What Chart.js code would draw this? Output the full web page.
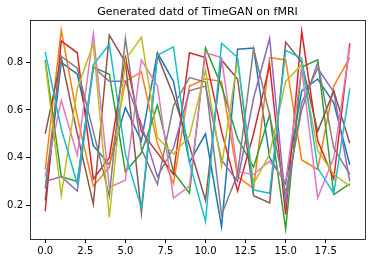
<!DOCTYPE html>
<html>
<head>
<meta charset="utf-8">
<script src="https://cdn.jsdelivr.net/npm/chart.js@4.4.1/dist/chart.umd.min.js"></script>
<style>
    html, body { margin: 0; padding: 0; background: #fff; }
    #wrap { width: 372px; height: 262px; }
</style>
</head>
<body>
<div id="wrap"><canvas id="chart"></canvas></div>
<script>
const steps = [0, 1, 2, 3, 4, 5, 6, 7, 8, 9, 10, 11, 12, 13, 14, 15, 16, 17, 18, 19];
const xTicks = [0, 2.5, 5, 7.5, 10, 12.5, 15, 17.5];
const yTicks = [0.2, 0.4, 0.6, 0.8];

const seriesBlue   = [0.22, 0.80, 0.75, 0.45, 0.37, 0.61, 0.47, 0.84, 0.72, 0.38, 0.50, 0.11, 0.855, 0.86, 0.40, 0.29, 0.68, 0.73, 0.63, 0.37];
const seriesOrange = [0.35, 0.935, 0.57, 0.28, 0.36, 0.72, 0.76, 0.46, 0.29, 0.70, 0.73, 0.72, 0.32, 0.27, 0.82, 0.81, 0.39, 0.35, 0.70, 0.82];
const seriesGreen  = [0.81, 0.32, 0.30, 0.78, 0.75, 0.34, 0.42, 0.62, 0.34, 0.25, 0.86, 0.70, 0.48, 0.36, 0.58, 0.10, 0.78, 0.81, 0.245, 0.29];
const seriesRed    = [0.175, 0.89, 0.84, 0.31, 0.40, 0.82, 0.51, 0.42, 0.33, 0.84, 0.82, 0.51, 0.26, 0.50, 0.79, 0.16, 0.93, 0.47, 0.31, 0.88];
const seriesPurple = [0.30, 0.32, 0.26, 0.78, 0.72, 0.72, 0.54, 0.32, 0.44, 0.68, 0.70, 0.39, 0.30, 0.65, 0.90, 0.21, 0.63, 0.775, 0.675, 0.30];
const seriesBrown  = [0.50, 0.82, 0.50, 0.205, 0.914, 0.80, 0.167, 0.83, 0.66, 0.45, 0.22, 0.81, 0.73, 0.24, 0.21, 0.885, 0.80, 0.51, 0.68, 0.46];
const seriesPink   = [0.32, 0.64, 0.41, 0.92, 0.275, 0.305, 0.81, 0.70, 0.23, 0.28, 0.84, 0.82, 0.34, 0.33, 0.385, 0.30, 0.775, 0.23, 0.40, 0.865];
const seriesGray   = [0.27, 0.825, 0.775, 0.51, 0.238, 0.90, 0.436, 0.288, 0.618, 0.736, 0.717, 0.16, 0.33, 0.857, 0.58, 0.25, 0.60, 0.80, 0.44, 0.33];
const seriesOlive  = [0.80, 0.24, 0.69, 0.876, 0.149, 0.81, 0.905, 0.484, 0.415, 0.49, 0.766, 0.364, 0.81, 0.29, 0.415, 0.72, 0.79, 0.43, 0.33, 0.28];
const seriesCyan   = [0.844, 0.52, 0.29, 0.79, 0.876, 0.415, 0.188, 0.83, 0.865, 0.38, 0.132, 0.88, 0.82, 0.264, 0.25, 0.85, 0.817, 0.356, 0.25, 0.69];

const allSeries = [seriesBlue, seriesOrange, seriesGreen, seriesRed, seriesPurple,
                   seriesBrown, seriesPink, seriesGray, seriesOlive, seriesCyan];
const colors = ['#1f77b4', '#ff7f0e', '#2ca02c', '#d62728', '#9467bd',
                '#8c564b', '#e377c2', '#7f7f7f', '#bcbd22', '#17becf'];

// matplotlib-ish 5% margins around the data
const allVals = allSeries.flat();
const yLo = Math.min(...allVals), yHi = Math.max(...allVals);
const yPad = (yHi - yLo) * 0.05;
const xPad = (steps[steps.length - 1] - steps[0]) * 0.05;

// frame around the plot area
const frame = {
    id: 'frame',
    afterDraw(chart) {
        const a = chart.chartArea, ctx = chart.ctx;
        ctx.save();
        ctx.strokeStyle = '#000';
        ctx.lineWidth = 0.8;
        ctx.strokeRect(Math.round(a.left) + 0.5, Math.round(a.top) + 0.5,
                       Math.round(a.right - a.left), Math.round(a.bottom - a.top));
        ctx.restore();
    }
};

const font = { family: 'DejaVu Sans', size: 10 };

new Chart(document.getElementById('chart'), {
    type: 'line',
    data: {
        datasets: allSeries.map((s, i) => ({
            data: s.map((v, j) => ({ x: steps[j], y: v })),
            borderColor: colors[i],
            borderWidth: 1.5,
            pointRadius: 0,
            tension: 0,
            fill: false,
            order: allSeries.length - i
        }))
    },
    options: {
        responsive: true,
        maintainAspectRatio: false,
        animation: false,
        layout: { padding: { left: 0, right: 7, top: 0, bottom: 0 } },
        plugins: {
            legend: { display: false },
            tooltip: { enabled: false },
            title: {
                display: true,
                fullSize: false,   // centre over the plot area, like matplotlib
                text: 'Generated datd of TimeGAN on fMRI',
                color: '#000',
                font: { family: 'DejaVu Sans', size: 11, weight: 'normal' },
                padding: { top: 6, bottom: 1 }
            }
        },
        scales: {
            x: {
                type: 'linear',
                min: steps[0] - xPad,
                max: steps[steps.length - 1] + xPad,
                afterBuildTicks: s => { s.ticks = xTicks.map(v => ({ value: v })); },
                afterFit: s => { s.height = 23; },
                grid: { drawOnChartArea: false, drawTicks: true, tickLength: 4, color: '#000' },
                border: { display: false },
                ticks: { color: '#000', font, padding: 2, maxRotation: 0,
                         callback: v => v.toFixed(1) }
            },
            y: {
                min: yLo - yPad,
                max: yHi + yPad,
                afterBuildTicks: s => { s.ticks = yTicks.map(v => ({ value: v })); },
                afterFit: s => { s.width = 30; },
                grid: { drawOnChartArea: false, drawTicks: true, tickLength: 4, color: '#000' },
                border: { display: false },
                ticks: { color: '#000', font, padding: 3,
                         callback: v => v.toFixed(1) }
            }
        }
    },
    plugins: [frame]
});
</script>
</body>
</html>
